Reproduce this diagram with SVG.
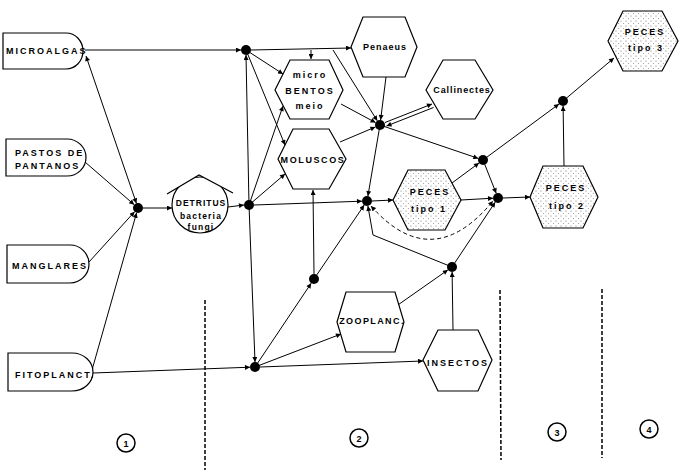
<svg xmlns="http://www.w3.org/2000/svg" width="680" height="472" viewBox="0 0 680 472">
<style>
.n{fill:#fff;stroke:#000;stroke-width:1.2}
.s{fill:url(#stip);stroke:#000;stroke-width:1.2}
.t{font-family:"Liberation Sans",Arial,sans-serif;font-weight:bold;font-size:9px;fill:#000;letter-spacing:2px}
.tc{text-anchor:middle}
.c{fill:none;stroke:#000;stroke-width:1}
.a{marker-end:url(#ah)}
.b{marker-start:url(#ah);marker-end:url(#ah)}
.d{fill:none;stroke:#000;stroke-width:1;stroke-dasharray:4 3}
.v{fill:none;stroke:#000;stroke-width:1.5;stroke-dasharray:4 2}
.j{fill:#000}
.z{fill:#fff;stroke:#000;stroke-width:1.5}
</style>
<defs>
<marker id="ah" viewBox="0 0 10 10" refX="10" refY="5" markerWidth="7" markerHeight="5" markerUnits="userSpaceOnUse" orient="auto-start-reverse"><path d="M0,0 L10,5 L0,10 Z" fill="#000"/></marker>
<pattern id="stip" width="5" height="5" patternUnits="userSpaceOnUse"><rect width="5" height="5" fill="#fff"/><circle cx="1" cy="1" r="0.6" fill="#777"/><circle cx="3.5" cy="3.5" r="0.6" fill="#999"/></pattern>
<clipPath id="roofclip"><polygon points="150,204 199,175 250,203 250,260 150,260"/></clipPath>
</defs>

<g id="dividers">
<line class="v" x1="205" y1="300" x2="205" y2="470"/>
<line class="v" x1="500" y1="290" x2="501" y2="460"/>
<line class="v" x1="602" y1="289" x2="602" y2="458"/>
</g>

<g id="connectors">
<line class="c a" x1="85" y1="50" x2="241" y2="50"/>
<line class="c b" x1="86" y1="56" x2="136.4" y2="203.3"/>
<line class="c a" x1="85" y1="162" x2="134.2" y2="204.7"/>
<line class="c a" x1="89" y1="262" x2="134.6" y2="211.7"/>
<line class="c a" x1="92" y1="370" x2="136.6" y2="212.8"/>
<line class="c a" x1="93" y1="373" x2="250" y2="367.2"/>
<line class="c a" x1="143" y1="208" x2="172" y2="208"/>
<line class="c a" x1="228" y1="207" x2="244" y2="205"/>
<line class="c a" x1="249" y1="205" x2="246" y2="55"/>
<line class="c a" x1="249" y1="205" x2="255" y2="362"/>
<line class="c a" x1="246" y1="50" x2="283" y2="74"/>
<line class="c a" x1="246" y1="50" x2="285" y2="145"/>
<line class="c a" x1="251" y1="50" x2="351" y2="48"/>
<line class="c a" x1="311" y1="50" x2="311" y2="59"/>
<line class="c a" x1="333" y1="50" x2="377.3" y2="120.8"/>
<line class="c a" x1="341" y1="104" x2="375.6" y2="122.6"/>
<line class="c a" x1="340" y1="142" x2="375.4" y2="127"/>
<line class="c a" x1="386" y1="77" x2="380.6" y2="120"/>
<line class="c a" x1="385" y1="122.5" x2="432" y2="104"/>
<line class="c a" x1="433.5" y1="107.5" x2="386.5" y2="126"/>
<line class="c a" x1="380" y1="125" x2="478.3" y2="158.4"/>
<line class="c a" x1="380" y1="125" x2="367.9" y2="196.1"/>
<line class="c a" x1="254" y1="205" x2="362" y2="201.2"/>
<line class="c a" x1="249" y1="205" x2="283" y2="106"/>
<line class="c a" x1="249" y1="205" x2="285" y2="174"/>
<line class="c a" x1="314" y1="274" x2="313" y2="190"/>
<line class="c a" x1="255" y1="367" x2="311.2" y2="283.2"/>
<line class="c a" x1="314" y1="279" x2="364.2" y2="205.1"/>
<line class="c a" x1="255" y1="367" x2="341" y2="334"/>
<line class="c a" x1="260" y1="367" x2="423" y2="361"/>
<line class="c a" x1="395" y1="307" x2="447.9" y2="269.9"/>
<line class="c a" x1="453" y1="330" x2="452.1" y2="272"/>
<line class="c a" x1="452" y1="267" x2="495.2" y2="202.2"/>
<polyline class="c a" points="452,267 373,235 367.9,205.9"/>
<path class="d b" d="M371,206 Q432,275 493,201"/>
<line class="c a" x1="372" y1="201" x2="393" y2="200"/>
<line class="c a" x1="452" y1="183" x2="479" y2="163"/>
<line class="c a" x1="461" y1="200" x2="493" y2="198.2"/>
<line class="c a" x1="483" y1="160" x2="496.2" y2="193.3"/>
<line class="c a" x1="483" y1="160" x2="559" y2="104"/>
<line class="c a" x1="503" y1="198" x2="530" y2="197"/>
<line class="c a" x1="564" y1="166" x2="563.1" y2="106"/>
<line class="c a" x1="563" y1="101" x2="614" y2="58"/>
</g>

<g id="junctions">
<circle class="j" cx="138" cy="208" r="5"/>
<circle class="j" cx="246" cy="50" r="5"/>
<circle class="j" cx="249" cy="205" r="5"/>
<circle class="j" cx="255" cy="367" r="5"/>
<circle class="j" cx="380" cy="125" r="5"/>
<circle class="j" cx="367" cy="201" r="5"/>
<circle class="j" cx="314" cy="279" r="5"/>
<circle class="j" cx="452" cy="267" r="5"/>
<circle class="j" cx="483" cy="160" r="5"/>
<circle class="j" cx="498" cy="198" r="5"/>
<circle class="j" cx="563" cy="101" r="5"/>
</g>

<g id="microalgas">
<path class="n" d="M3,33 H66 A17,18 0 0 1 66,69 H3 Z"/>
<text class="t" x="6" y="54">MICROALGAS</text>
</g>
<g id="pastos">
<path class="n" d="M6,139 H67 A19,18.5 0 0 1 67,176 H6 Z"/>
<text class="t" x="15" y="156">PASTOS DE</text>
<text class="t" x="15" y="169">PANTANOS</text>
</g>
<g id="manglares">
<path class="n" d="M7,245 H70 A19,19 0 0 1 70,283 H7 Z"/>
<text class="t" x="12" y="269">MANGLARES</text>
</g>
<g id="fitoplanct">
<path class="n" d="M8,353 H72 A21,19 0 0 1 72,391 H8 Z"/>
<text class="t" x="15" y="378">FITOPLANCT.</text>
</g>

<g id="detritus">
<circle class="n" cx="200" cy="205" r="28" clip-path="url(#roofclip)"/>
<polyline class="c" points="167,194 199,175 233,193" style="stroke-width:1.2"/>
<text class="t tc" x="201" y="206" style="letter-spacing:1px;font-size:8.5px">DETRITUS</text>
<text class="t tc" x="201" y="219" style="letter-spacing:1.2px;font-size:8.5px">bacteria</text>
<text class="t tc" x="201" y="230" style="letter-spacing:1.2px;font-size:8.5px">fungi</text>
</g>

<g id="penaeus">
<polygon class="n" points="351,47 363,17 405,17 417,47 405,77 363,77"/>
<text class="t tc" x="385" y="50" style="letter-spacing:1px">Penaeus</text>
</g>
<g id="bentos">
<polygon class="n" points="275,90 290,60 329,60 343,90 329,119 290,119"/>
<text class="t tc" x="310" y="78">micro</text>
<text class="t tc" x="310" y="94">BENTOS</text>
<text class="t tc" x="310" y="109">meio</text>
</g>
<g id="moluscos">
<polygon class="n" points="278,159 293,129 329,129 346,159 329,189 293,189"/>
<text class="t tc" x="313" y="163" style="letter-spacing:1.6px">MOLUSCOS</text>
</g>
<g id="callinectes">
<polygon class="n" points="426,90 443,60 475,60 493,90 475,119 443,119"/>
<text class="t tc" x="462" y="93" style="letter-spacing:0.9px">Callinectes</text>
</g>
<g id="peces1">
<polygon class="s" points="393,200 408,170 445,170 461,200 445,230 408,230"/>
<text class="t tc" x="430" y="195">PECES</text>
<text class="t tc" x="429" y="212">tipo 1</text>
</g>
<g id="peces2">
<polygon class="s" points="530,197 543,166 583,166 598,197 583,228 543,228"/>
<text class="t tc" x="566" y="191">PECES</text>
<text class="t tc" x="567" y="209">tipo 2</text>
</g>
<g id="peces3">
<polygon class="s" points="608,41 623,11 662,11 678,41 662,71 623,71"/>
<text class="t tc" x="645" y="35">PECES</text>
<text class="t tc" x="646" y="51">tipo 3</text>
</g>
<g id="zooplanc">
<polygon class="n" points="337,322 346,292 395,292 404,322 395,352 346,352"/>
<text class="t tc" x="372" y="324" style="letter-spacing:1.4px">ZOOPLANC.</text>
</g>
<g id="insectos">
<polygon class="n" points="423,360 438,330 478,330 492,360 478,391 438,391"/>
<text class="t tc" x="458" y="366">INSECTOS</text>
</g>

<g id="zones">
<circle class="z" cx="126" cy="443" r="9"/>
<text class="t tc" x="126" y="446.5" style="letter-spacing:0">1</text>
<circle class="z" cx="359" cy="438" r="9"/>
<text class="t tc" x="359" y="441.5" style="letter-spacing:0">2</text>
<circle class="z" cx="557" cy="432" r="9"/>
<text class="t tc" x="557" y="435.5" style="letter-spacing:0">3</text>
<circle class="z" cx="649" cy="429" r="9"/>
<text class="t tc" x="649" y="432.5" style="letter-spacing:0">4</text>
</g>
</svg>
